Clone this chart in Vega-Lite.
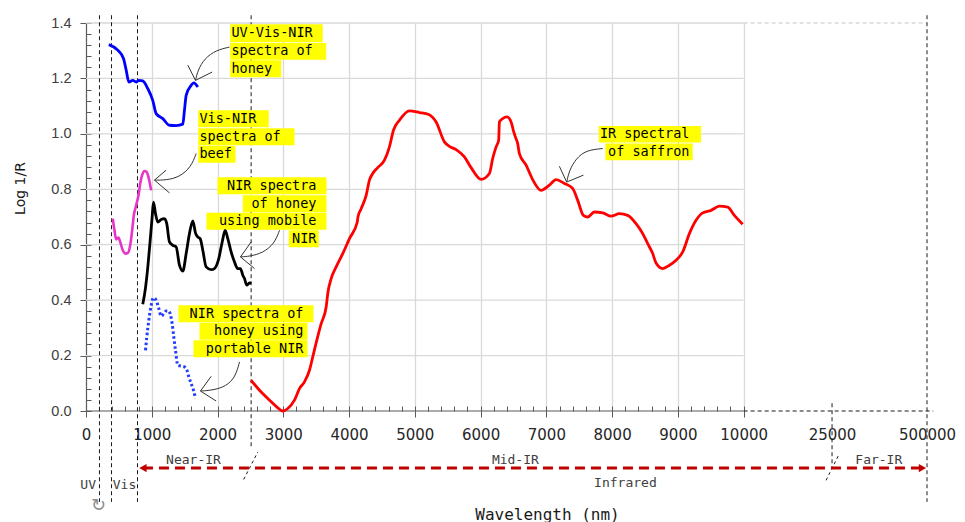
{
  "$schema": "https://vega.github.io/schema/vega-lite/v6.json",
  "autosize": "none",
  "width": 841,
  "height": 388,
  "padding": {"left": 86, "top": 23, "right": 38, "bottom": 111},
  "config": {"view": {"stroke": null}, "font": "DejaVu Sans"},
  "datasets": {
    "spectra": [
      {"s":"uv","wl":347,"v":1.322},{"s":"uv","wl":483,"v":1.302},{"s":"uv","wl":570,"v":1.272},{"s":"uv","wl":611,"v":1.230},{"s":"uv","wl":651,"v":1.187},{"s":"uv","wl":711,"v":1.193},{"s":"uv","wl":763,"v":1.187},{"s":"uv","wl":803,"v":1.193},{"s":"uv","wl":863,"v":1.191},{"s":"uv","wl":940,"v":1.163},{"s":"uv","wl":1015,"v":1.121},{"s":"uv","wl":1067,"v":1.073},{"s":"uv","wl":1168,"v":1.055},{"s":"uv","wl":1269,"v":1.031},{"s":"uv","wl":1371,"v":1.030},{"s":"uv","wl":1472,"v":1.035},{"s":"uv","wl":1497,"v":1.085},{"s":"uv","wl":1523,"v":1.139},{"s":"uv","wl":1599,"v":1.175},{"s":"uv","wl":1639,"v":1.184},{"s":"uv","wl":1700,"v":1.169},
      {"s":"beef","wl":407,"v":0.694},{"s":"beef","wl":433,"v":0.652},{"s":"beef","wl":459,"v":0.619},{"s":"beef","wl":494,"v":0.626},{"s":"beef","wl":520,"v":0.610},{"s":"beef","wl":550,"v":0.586},{"s":"beef","wl":600,"v":0.568},{"s":"beef","wl":635,"v":0.570},{"s":"beef","wl":672,"v":0.598},{"s":"beef","wl":702,"v":0.652},{"s":"beef","wl":727,"v":0.706},{"s":"beef","wl":763,"v":0.742},{"s":"beef","wl":803,"v":0.785},{"s":"beef","wl":824,"v":0.821},{"s":"beef","wl":854,"v":0.851},{"s":"beef","wl":889,"v":0.866},{"s":"beef","wl":924,"v":0.862},{"s":"beef","wl":955,"v":0.839},{"s":"beef","wl":991,"v":0.796},
      {"s":"mobile","wl":863,"v":0.385},{"s":"mobile","wl":900,"v":0.436},{"s":"mobile","wl":940,"v":0.520},{"s":"mobile","wl":976,"v":0.616},{"s":"mobile","wl":1006,"v":0.700},{"s":"mobile","wl":1026,"v":0.754},{"s":"mobile","wl":1057,"v":0.712},{"s":"mobile","wl":1092,"v":0.682},{"s":"mobile","wl":1143,"v":0.691},{"s":"mobile","wl":1193,"v":0.694},{"s":"mobile","wl":1228,"v":0.676},{"s":"mobile","wl":1269,"v":0.610},{"s":"mobile","wl":1320,"v":0.598},{"s":"mobile","wl":1371,"v":0.592},{"s":"mobile","wl":1421,"v":0.526},{"s":"mobile","wl":1472,"v":0.505},{"s":"mobile","wl":1523,"v":0.568},{"s":"mobile","wl":1573,"v":0.640},{"s":"mobile","wl":1624,"v":0.686},{"s":"mobile","wl":1665,"v":0.642},{"s":"mobile","wl":1700,"v":0.628},{"s":"mobile","wl":1736,"v":0.622},{"s":"mobile","wl":1776,"v":0.580},{"s":"mobile","wl":1827,"v":0.520},{"s":"mobile","wl":1903,"v":0.510},{"s":"mobile","wl":1953,"v":0.514},{"s":"mobile","wl":2019,"v":0.550},{"s":"mobile","wl":2071,"v":0.610},{"s":"mobile","wl":2116,"v":0.652},{"s":"mobile","wl":2156,"v":0.622},{"s":"mobile","wl":2207,"v":0.574},{"s":"mobile","wl":2258,"v":0.538},{"s":"mobile","wl":2308,"v":0.514},{"s":"mobile","wl":2349,"v":0.514},{"s":"mobile","wl":2384,"v":0.490},{"s":"mobile","wl":2410,"v":0.478},{"s":"mobile","wl":2444,"v":0.454},{"s":"mobile","wl":2486,"v":0.462},{"s":"mobile","wl":2511,"v":0.460},
      {"s":"portable","wl":905,"v":0.219},{"s":"portable","wl":924,"v":0.267},{"s":"portable","wl":955,"v":0.327},{"s":"portable","wl":991,"v":0.381},{"s":"portable","wl":1026,"v":0.409},{"s":"portable","wl":1067,"v":0.399},{"s":"portable","wl":1107,"v":0.370},{"s":"portable","wl":1143,"v":0.342},{"s":"portable","wl":1183,"v":0.351},{"s":"portable","wl":1219,"v":0.361},{"s":"portable","wl":1259,"v":0.361},{"s":"portable","wl":1280,"v":0.351},{"s":"portable","wl":1310,"v":0.315},{"s":"portable","wl":1335,"v":0.267},{"s":"portable","wl":1361,"v":0.219},{"s":"portable","wl":1396,"v":0.165},{"s":"portable","wl":1447,"v":0.162},{"s":"portable","wl":1497,"v":0.159},{"s":"portable","wl":1532,"v":0.149},{"s":"portable","wl":1563,"v":0.123},{"s":"portable","wl":1599,"v":0.099},{"s":"portable","wl":1634,"v":0.075},{"s":"portable","wl":1665,"v":0.045},
      {"s":"saffron","wl":2511,"v":0.111},{"s":"saffron","wl":2638,"v":0.075},{"s":"saffron","wl":2764,"v":0.045},{"s":"saffron","wl":2891,"v":0.017},{"s":"saffron","wl":2992,"v":0.000},{"s":"saffron","wl":3068,"v":0.009},{"s":"saffron","wl":3170,"v":0.039},{"s":"saffron","wl":3246,"v":0.081},{"s":"saffron","wl":3322,"v":0.105},{"s":"saffron","wl":3398,"v":0.147},{"s":"saffron","wl":3448,"v":0.195},{"s":"saffron","wl":3509,"v":0.255},{"s":"saffron","wl":3576,"v":0.315},{"s":"saffron","wl":3652,"v":0.375},{"s":"saffron","wl":3676,"v":0.424},{"s":"saffron","wl":3728,"v":0.478},{"s":"saffron","wl":3804,"v":0.520},{"s":"saffron","wl":3904,"v":0.568},{"s":"saffron","wl":4006,"v":0.622},{"s":"saffron","wl":4125,"v":0.682},{"s":"saffron","wl":4135,"v":0.700},{"s":"saffron","wl":4184,"v":0.730},{"s":"saffron","wl":4260,"v":0.778},{"s":"saffron","wl":4310,"v":0.833},{"s":"saffron","wl":4360,"v":0.857},{"s":"saffron","wl":4436,"v":0.878},{"s":"saffron","wl":4538,"v":0.905},{"s":"saffron","wl":4614,"v":0.953},{"s":"saffron","wl":4675,"v":1.013},{"s":"saffron","wl":4766,"v":1.049},{"s":"saffron","wl":4918,"v":1.083},{"s":"saffron","wl":5070,"v":1.077},{"s":"saffron","wl":5211,"v":1.070},{"s":"saffron","wl":5324,"v":1.043},{"s":"saffron","wl":5450,"v":0.971},{"s":"saffron","wl":5526,"v":0.955},{"s":"saffron","wl":5628,"v":0.943},{"s":"saffron","wl":5754,"v":0.917},{"s":"saffron","wl":5856,"v":0.878},{"s":"saffron","wl":6008,"v":0.836},{"s":"saffron","wl":6134,"v":0.857},{"s":"saffron","wl":6184,"v":0.911},{"s":"saffron","wl":6236,"v":0.953},{"s":"saffron","wl":6275,"v":0.977},{"s":"saffron","wl":6286,"v":1.043},{"s":"saffron","wl":6336,"v":1.055},{"s":"saffron","wl":6403,"v":1.061},{"s":"saffron","wl":6464,"v":1.043},{"s":"saffron","wl":6504,"v":1.007},{"s":"saffron","wl":6529,"v":0.989},{"s":"saffron","wl":6564,"v":0.965},{"s":"saffron","wl":6590,"v":0.929},{"s":"saffron","wl":6692,"v":0.887},{"s":"saffron","wl":6792,"v":0.835},{"s":"saffron","wl":6920,"v":0.796},{"s":"saffron","wl":7046,"v":0.815},{"s":"saffron","wl":7148,"v":0.835},{"s":"saffron","wl":7274,"v":0.821},{"s":"saffron","wl":7400,"v":0.803},{"s":"saffron","wl":7477,"v":0.760},{"s":"saffron","wl":7563,"v":0.706},{"s":"saffron","wl":7629,"v":0.700},{"s":"saffron","wl":7730,"v":0.718},{"s":"saffron","wl":7857,"v":0.715},{"s":"saffron","wl":7984,"v":0.703},{"s":"saffron","wl":8110,"v":0.712},{"s":"saffron","wl":8237,"v":0.706},{"s":"saffron","wl":8364,"v":0.676},{"s":"saffron","wl":8465,"v":0.640},{"s":"saffron","wl":8541,"v":0.604},{"s":"saffron","wl":8617,"v":0.568},{"s":"saffron","wl":8668,"v":0.534},{"s":"saffron","wl":8769,"v":0.514},{"s":"saffron","wl":8871,"v":0.526},{"s":"saffron","wl":8972,"v":0.544},{"s":"saffron","wl":9073,"v":0.574},{"s":"saffron","wl":9175,"v":0.640},{"s":"saffron","wl":9276,"v":0.688},{"s":"saffron","wl":9377,"v":0.715},{"s":"saffron","wl":9504,"v":0.724},{"s":"saffron","wl":9630,"v":0.739},{"s":"saffron","wl":9757,"v":0.736},{"s":"saffron","wl":9859,"v":0.706},{"s":"saffron","wl":9985,"v":0.674}
    ],
    "segs": [
      {"k":"grid","wl":0,"wl2":10000,"v":0.2},{"k":"grid","wl":0,"wl2":10000,"v":0.4},{"k":"grid","wl":0,"wl2":10000,"v":0.6},{"k":"grid","wl":0,"wl2":10000,"v":0.8},{"k":"grid","wl":0,"wl2":10000,"v":1.0},{"k":"grid","wl":0,"wl2":10000,"v":1.2},{"k":"grid","wl":0,"wl2":10000,"v":1.4},
      {"k":"topdash","wl":10000,"wl2":12788,"v":1.4},
      {"k":"axis","wl":0,"wl2":10000,"v":0},
      {"k":"axisdash","wl":10000,"wl2":12884,"v":0},
      {"k":"arrow","wl":866,"wl2":12719,"v":-0.206}
    ],
    "vlines": [
      {"wl":205,"v":1.428,"v2":-0.328},{"wl":388,"v":1.428,"v2":-0.328},{"wl":783,"v":1.428,"v2":-0.328},{"wl":2511,"v":1.428,"v2":-0.135},{"wl":11344,"v":0.028,"v2":-0.207},{"wl":12788,"v":1.428,"v2":-0.328}
    ],
    "slash": [{"wl":2398,"v":-0.247,"wl2":2612,"v2":-0.148},{"wl":11253,"v":-0.25,"wl2":11455,"v2":-0.154}],
    "tips": [{"wl":866,"v":-0.206,"dir":"left"},{"wl":12719,"v":-0.206,"dir":"right"}],
    "acurve": [
      {"id":"a1","k":1,"wl":2181,"v":1.313},{"id":"a1","k":2,"wl":1979,"v":1.302},{"id":"a1","k":3,"wl":1801,"v":1.272},{"id":"a1","k":4,"wl":1700,"v":1.229},{"id":"a1","k":5,"wl":1665,"v":1.193},
      {"id":"a2","k":1,"wl":1675,"v":0.929},{"id":"a2","k":2,"wl":1599,"v":0.881},{"id":"a2","k":3,"wl":1421,"v":0.844},{"id":"a2","k":4,"wl":1219,"v":0.833},{"id":"a2","k":5,"wl":1041,"v":0.833},
      {"id":"a3","k":1,"wl":2942,"v":0.652},{"id":"a3","k":2,"wl":2866,"v":0.604},{"id":"a3","k":3,"wl":2688,"v":0.570},{"id":"a3","k":4,"wl":2486,"v":0.558},{"id":"a3","k":5,"wl":2349,"v":0.556},
      {"id":"a4","k":1,"wl":2334,"v":0.177},{"id":"a4","k":2,"wl":2273,"v":0.123},{"id":"a4","k":3,"wl":2131,"v":0.089},{"id":"a4","k":4,"wl":1928,"v":0.075},{"id":"a4","k":5,"wl":1741,"v":0.072},
      {"id":"a5","k":1,"wl":7857,"v":0.947},{"id":"a5","k":2,"wl":7604,"v":0.941},{"id":"a5","k":3,"wl":7452,"v":0.911},{"id":"a5","k":4,"wl":7350,"v":0.869},{"id":"a5","k":5,"wl":7309,"v":0.826}
    ],
    "aheads": [
      {"id":"h1","k":1,"wl":1548,"v":1.248},{"id":"h1","k":2,"wl":1665,"v":1.193},{"id":"h1","k":3,"wl":1919,"v":1.223},
      {"id":"h2","k":1,"wl":1219,"v":0.869},{"id":"h2","k":2,"wl":1041,"v":0.833},{"id":"h2","k":3,"wl":1269,"v":0.787},
      {"id":"h3","k":1,"wl":2511,"v":0.610},{"id":"h3","k":2,"wl":2349,"v":0.556},{"id":"h3","k":3,"wl":2562,"v":0.514},
      {"id":"h4","k":1,"wl":1903,"v":0.125},{"id":"h4","k":2,"wl":1741,"v":0.072},{"id":"h4","k":3,"wl":1979,"v":0.036},
      {"id":"h5","k":1,"wl":7198,"v":0.883},{"id":"h5","k":2,"wl":7309,"v":0.826},{"id":"h5","k":3,"wl":7563,"v":0.851}
    ],
    "boxL": [
      {"t":"UV-Vis-NIR","wl":2212,"v":1.363,"x1":2192,"x2":3600,"y1":1.3955,"y2":1.3307},
      {"t":"spectra of","wl":2212,"v":1.298,"x1":2192,"x2":3652,"y1":1.3282,"y2":1.2674},
      {"t":"honey","wl":2212,"v":1.235,"x1":2192,"x2":2967,"y1":1.2656,"y2":1.2042},
      {"t":"Vis-NIR","wl":1725,"v":1.0545,"x1":1706,"x2":2779,"y1":1.0852,"y2":1.0238},
      {"t":"spectra of","wl":1725,"v":0.9895,"x1":1706,"x2":3170,"y1":1.0202,"y2":0.9589},
      {"t":"beef","wl":1725,"v":0.9264,"x1":1706,"x2":2273,"y1":0.9570,"y2":0.8957}
    ],
    "boxR": [
      {"t":"NIR spectra","wl":3504,"v":0.8127,"x1":1999,"x2":3656,"y1":0.8434,"y2":0.7820},
      {"t":"of honey","wl":3504,"v":0.7477,"x1":2384,"x2":3656,"y1":0.7784,"y2":0.7171},
      {"t":"using mobile","wl":3504,"v":0.6846,"x1":1832,"x2":3656,"y1":0.7153,"y2":0.6539},
      {"t":"NIR","wl":3504,"v":0.6214,"x1":3083,"x2":3539,"y1":0.6521,"y2":0.5908},
      {"t":"NIR spectra of","wl":3306,"v":0.3508,"x1":1406,"x2":3458,"y1":0.3814,"y2":0.3201},
      {"t":"honey using","wl":3306,"v":0.2876,"x1":1725,"x2":3367,"y1":0.3183,"y2":0.2569},
      {"t":"portable NIR","wl":3306,"v":0.2245,"x1":1634,"x2":3367,"y1":0.2551,"y2":0.1938},
      {"t":"IR spectral","wl":9175,"v":0.9986,"x1":7796,"x2":9352,"y1":1.0285,"y2":0.9686},
      {"t":"of saffron","wl":9175,"v":0.9347,"x1":7898,"x2":9225,"y1":0.9650,"y2":0.9047}
    ],
    "blabels": [
      {"t":"Near-IR","wl":1634,"v":-0.176},{"t":"Mid-IR","wl":6529,"v":-0.176},{"t":"Far-IR","wl":12055,"v":-0.176},{"t":"Infrared","wl":8202,"v":-0.259},{"t":"UV","wl":33,"v":-0.266},{"t":"Vis","wl":585,"v":-0.266}
    ],
    "glyph": [{"t":"↻","wl":190,"v":-0.344}]
  },
  "encoding": {
    "x": {"field":"wl","type":"quantitative","scale":{"domain":[0,12788],"nice":false,"zero":false},"axis":null},
    "y": {"field":"v","type":"quantitative","scale":{"domain":[0,1.4],"nice":false,"zero":false},"axis":null}
  },
  "resolve": {"axis": {"x":"independent","y":"independent"}},
  "layer": [
    {
      "data": {"name":"segs"},
      "transform": [{"filter":"datum.k == 'grid'"}],
      "mark": {"type":"rule","color":"#d9d9d9","strokeWidth":1.3},
      "encoding": {"x2": {"field":"wl2"}}
    },
    {
      "data": {"name":"segs"},
      "transform": [{"filter":"datum.k == 'topdash'"}],
      "mark": {"type":"rule","color":"#d9d9d9","strokeWidth":1.3,"strokeDash":[4,3]},
      "encoding": {"x2": {"field":"wl2"}}
    },
    {
      "data": {"name":"vlines"},
      "mark": {"type":"rule","color":"#1a1a1a","strokeWidth":1,"strokeDash":[4,3]},
      "encoding": {
        "x": {"field":"wl","type":"quantitative","scale":{"domain":[0,12788],"nice":false,"zero":false},
          "axis": {"orient":"bottom","values":[0,200,400,600,800,1000,1200,1400,1600,1800,2000,2200,2400,2600,2800,3000,3200,3400,3600,3800,4000,4200,4400,4600,4800,5000,5200,5400,5600,5800,6000,6200,6400,6600,6800,7000,7200,7400,7600,7800,8000,8200,8400,8600,8800,9000,9200,9400,9600,9800,10000],
            "tickSize":-5,"tickColor":"#595959","tickWidth":1,"labels":false,"domain":false,"grid":false,"title":null}},
        "y": {"field":"v","type":"quantitative","scale":{"domain":[0,1.4],"nice":false,"zero":false},
          "axis": {"orient":"left","values":[0,0.04,0.08,0.12,0.16,0.2,0.24,0.28,0.32,0.36,0.4,0.44,0.48,0.52,0.56,0.6,0.64,0.68,0.72,0.76,0.8,0.84,0.88,0.92,0.96,1,1.04,1.08,1.12,1.16,1.2,1.24,1.28,1.32,1.36,1.4],
            "tickSize":-5,"tickColor":"#595959","tickWidth":1,"labels":false,"domain":false,"grid":false,"title":null}},
        "y2": {"field":"v2"}
      }
    },
    {
      "data": {"name":"segs"},
      "transform": [{"filter":"datum.k == 'axis'"}],
      "mark": {"type":"rule","color":"#595959","strokeWidth":1.2},
      "encoding": {"x2": {"field":"wl2"}}
    },
    {
      "data": {"name":"segs"},
      "transform": [{"filter":"datum.k == 'axisdash'"}],
      "mark": {"type":"rule","color":"#1a1a1a","strokeWidth":1,"strokeDash":[4,3]},
      "encoding": {"x2": {"field":"wl2"}}
    },
    {
      "data": {"name":"slash"},
      "mark": {"type":"rule","color":"#1a1a1a","strokeWidth":1,"strokeDash":[3,3]},
      "encoding": {"x2": {"field":"wl2"}, "y2": {"field":"v2"}}
    },
    {
      "data": {"name":"segs"},
      "transform": [{"filter":"datum.k == 'arrow'"}],
      "mark": {"type":"rule","color":"#c00000","strokeWidth":3,"strokeDash":[10,6]},
      "encoding": {"x2": {"field":"wl2"}}
    },
    {
      "data": {"name":"tips"},
      "mark": {"type":"point","filled":true,"color":"#c00000","size":70,"opacity":1},
      "encoding": {
        "shape": {"field":"dir","type":"nominal","scale":{"domain":["left","right"],"range":["triangle-left","triangle-right"]},"legend":null}
      }
    },
    {
      "data": {"name":"boxL"},
      "mark": {"type":"rect","color":"#ffff00"},
      "encoding": {
        "x": {"field":"x1","type":"quantitative","scale":{"domain":[0,12788],"nice":false,"zero":false},"axis":null},
        "x2": {"field":"x2"},
        "y": {"field":"y1","type":"quantitative","scale":{"domain":[0,1.4],"nice":false,"zero":false},"axis":null},
        "y2": {"field":"y2"}
      }
    },
    {
      "data": {"name":"boxR"},
      "mark": {"type":"rect","color":"#ffff00"},
      "encoding": {
        "x": {"field":"x1","type":"quantitative","scale":{"domain":[0,12788],"nice":false,"zero":false},"axis":null},
        "x2": {"field":"x2"},
        "y": {"field":"y1","type":"quantitative","scale":{"domain":[0,1.4],"nice":false,"zero":false},"axis":null},
        "y2": {"field":"y2"}
      }
    },
    {
      "data": {"name":"boxL"},
      "mark": {"type":"text","align":"left","baseline":"middle","font":"DejaVu Sans Mono","fontSize":13.5,"color":"#000000"},
      "encoding": {"text": {"field":"t"}}
    },
    {
      "data": {"name":"boxR"},
      "mark": {"type":"text","align":"right","baseline":"middle","font":"DejaVu Sans Mono","fontSize":13.5,"color":"#000000"},
      "encoding": {"text": {"field":"t"}}
    },
    {
      "data": {"name":"spectra"},
      "transform": [{"filter":"datum.s == 'saffron'"}],
      "mark": {"type":"line","color":"#ff0000","strokeWidth":2.8,"interpolate":"monotone"},
      "encoding": {
        "x": {"field":"wl","type":"quantitative","scale":{"domain":[0,12788],"nice":false,"zero":false},
          "axis": {"orient":"bottom","values":[0,1000,2000,3000,4000,5000,6000,7000,8000,9000,10000,11344,12788],
            "labelExpr":"datum.value == 11344 ? '25000' : datum.value == 12788 ? '500000' : format(datum.value, 'd')",
            "labelFont":"DejaVu Sans","labelFontSize":15,"labelColor":"#262626","labelPadding":10,"labelOverlap":false,"labelFlush":false,"labelBound":false,
            "tickSize":6,"tickColor":"#595959","tickWidth":1,
            "tickOpacity": {"condition": {"test":"datum.value > 10000","value":0},"value":1},
            "domain":false,
            "grid":true,"gridColor":"#d9d9d9","gridWidth":1.3,
            "gridOpacity": {"condition": {"test":"datum.value == 0 || datum.value > 10000","value":0},"value":1},
            "title":"Wavelength (nm)","titleFont":"DejaVu Sans Mono","titleFontSize":16,"titleFontWeight":"normal","titleColor":"#1a1a1a",
            "titleX":461,"titleY":108,"titleBaseline":"alphabetic","titleAlign":"center"}},
        "y": {"field":"v","type":"quantitative","scale":{"domain":[0,1.4],"nice":false,"zero":false},
          "axis": {"orient":"left","values":[0,0.2,0.4,0.6,0.8,1,1.2,1.4],"format":".1f",
            "labelFont":"Liberation Sans","labelFontSize":14.5,"labelColor":"#404040","labelPadding":9,
            "tickSize":6,"tickColor":"#595959","tickWidth":1,
            "domain":true,"domainColor":"#595959","domainWidth":1.2,"grid":false,
            "title":"Log 1/R","titleFont":"DejaVu Sans","titleFontSize":14,"titleFontWeight":"normal","titleColor":"#1a1a1a",
            "titleX":-66,"titleY":165,"titleAngle":-90,"titleBaseline":"middle","titleAlign":"center"}}
      }
    },
    {
      "data": {"name":"spectra"},
      "transform": [{"filter":"datum.s == 'uv'"}],
      "mark": {"type":"line","color":"#0000ff","strokeWidth":2.8,"interpolate":"monotone"}
    },
    {
      "data": {"name":"spectra"},
      "transform": [{"filter":"datum.s == 'beef'"}],
      "mark": {"type":"line","color":"#e635c8","strokeWidth":2.6,"interpolate":"monotone"}
    },
    {
      "data": {"name":"spectra"},
      "transform": [{"filter":"datum.s == 'mobile'"}],
      "mark": {"type":"line","color":"#000000","strokeWidth":2.8,"interpolate":"monotone"}
    },
    {
      "data": {"name":"spectra"},
      "transform": [{"filter":"datum.s == 'portable'"}],
      "mark": {"type":"line","color":"#1f3cff","strokeWidth":3,"strokeDash":[2.5,2.5],"interpolate":"monotone"}
    },
    {
      "data": {"name":"acurve"},
      "mark": {"type":"line","color":"#333333","strokeWidth":1,"interpolate":"basis"},
      "encoding": {"detail": {"field":"id"}, "order": {"field":"k","type":"quantitative"}}
    },
    {
      "data": {"name":"aheads"},
      "mark": {"type":"line","color":"#333333","strokeWidth":1},
      "encoding": {"detail": {"field":"id"}, "order": {"field":"k","type":"quantitative"}}
    },
    {
      "data": {"name":"blabels"},
      "mark": {"type":"text","align":"center","baseline":"middle","font":"DejaVu Sans Mono","fontSize":13,"color":"#404040"},
      "encoding": {"text": {"field":"t"}}
    },
    {
      "data": {"name":"glyph"},
      "mark": {"type":"text","align":"center","baseline":"middle","font":"DejaVu Sans","fontSize":18,"color":"#8c8c8c"},
      "encoding": {"text": {"field":"t"}}
    }
  ]
}
